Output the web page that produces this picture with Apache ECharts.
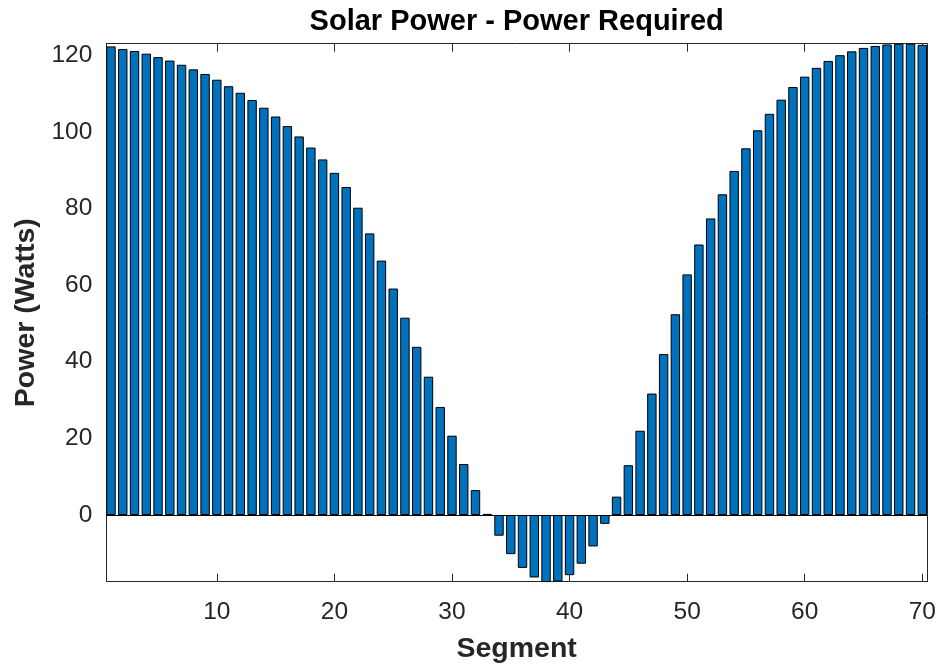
<!DOCTYPE html>
<html>
<head>
<meta charset="utf-8">
<script src="https://cdn.jsdelivr.net/npm/echarts@6/dist/echarts.min.js"></script>
<style>
html,body{margin:0;padding:0;background:#fff;}
#chart{width:940px;height:666px;}
</style>
</head>
<body>
<div id="chart"></div>
<script>
var segments = [1,2,3,4,5,6,7,8,9,10,11,12,13,14,15,16,17,18,19,20,21,22,23,24,25,26,27,28,29,30,31,32,33,34,35,36,37,38,39,40,41,42,43,44,45,46,47,48,49,50,51,52,53,54,55,56,57,58,59,60,61,62,63,64,65,66,67,68,69,70];
var power = [
  122.3, 121.6, 121.1, 120.4, 119.5, 118.6, 117.5, 116.3, 115.1, 113.6,
  111.9, 110.2, 108.3, 106.3, 104.0, 101.5, 98.8, 95.9, 92.8, 89.3,
  85.6, 80.2, 73.5, 66.4, 59.1, 51.5, 43.9, 36.1, 28.2, 20.7,
  13.3, 6.5, 0.3, -5.4, -10.2, -13.8, -16.3, -17.5, -17.3, -15.7,
  -12.7, -8.2, -2.3, 4.8, 13.0, 22.0, 31.7, 42.0, 52.4, 62.8,
  70.6, 77.4, 83.7, 89.8, 95.7, 100.4, 104.7, 108.4, 111.7, 114.4,
  116.7, 118.5, 120.0, 121.0, 121.9, 122.4, 122.8, 123.0, 123.0, 122.7
];
var xTicks = [10, 20, 30, 40, 50, 60, 70];
var yTicks = [0, 20, 40, 60, 80, 100, 120];
var xRange = [0.6, 70.4];
var yRange = [-17.4, 123.0];

var FONT = '"Liberation Sans", Arial, Helvetica, sans-serif';
var AX = '#262626';

var chart = echarts.init(document.getElementById('chart'), null, {renderer: 'canvas'});

var data = segments.map(function (s, i) { return [s, power[i]]; });

function xAxisCfg(pos, showLabels) {
  return {
    type: 'value',
    position: pos,
    min: xRange[0], max: xRange[1],
    axisLine: {show: true, onZero: false, lineStyle: {color: AX, width: 1}},
    axisTick: {show: true, inside: true, length: 8, customValues: xTicks, lineStyle: {color: AX, width: 1}},
    axisLabel: {show: showLabels, customValues: xTicks, margin: 18, color: AX, fontSize: 24.5, fontFamily: FONT},
    splitLine: {show: false},
    name: showLabels ? 'Segment' : '',
    nameLocation: 'middle',
    nameGap: 53,
    nameTextStyle: {fontSize: 28.5, fontWeight: 'bold', color: AX, fontFamily: FONT}
  };
}
function yAxisCfg(pos, showLabels) {
  return {
    type: 'value',
    position: pos,
    min: yRange[0], max: yRange[1],
    axisLine: {show: true, onZero: false, lineStyle: {color: AX, width: 1}},
    axisTick: {show: true, inside: true, length: 8, customValues: yTicks, lineStyle: {color: AX, width: 1}},
    axisLabel: {show: showLabels, customValues: yTicks, margin: 14, color: AX, fontSize: 24.5, fontFamily: FONT},
    splitLine: {show: false},
    name: showLabels ? 'Power (Watts)' : '',
    nameLocation: 'middle',
    nameGap: 66,
    nameTextStyle: {fontSize: 28.5, fontWeight: 'bold', color: AX, fontFamily: FONT}
  };
}

chart.setOption({
  animation: false,
  backgroundColor: '#fff',
  title: {
    text: 'Solar Power - Power Required',
    left: 516.7,
    top: 7,
    padding: 0,
    textAlign: 'center',
    textStyle: {fontSize: 29, fontWeight: 'bold', color: '#000', fontFamily: FONT}
  },
  grid: {left: 106.3, right: 13, top: 43.7, bottom: 84.3, containLabel: false, outerBoundsMode: 'none'},
  xAxis: [xAxisCfg('bottom', true), xAxisCfg('top', false)],
  yAxis: [yAxisCfg('left', true), yAxisCfg('right', false)],
  series: [{
    type: 'bar',
    xAxisIndex: 0,
    yAxisIndex: 0,
    data: data,
    barWidth: '80%',
    itemStyle: {color: '#0072BD', borderColor: '#000', borderWidth: 1},
    markLine: {
      silent: true,
      symbol: 'none',
      label: {show: false},
      lineStyle: {color: '#000', width: 1, type: 'solid'},
      data: [{yAxis: 0}]
    }
  }]
});
</script>
</body>
</html>
